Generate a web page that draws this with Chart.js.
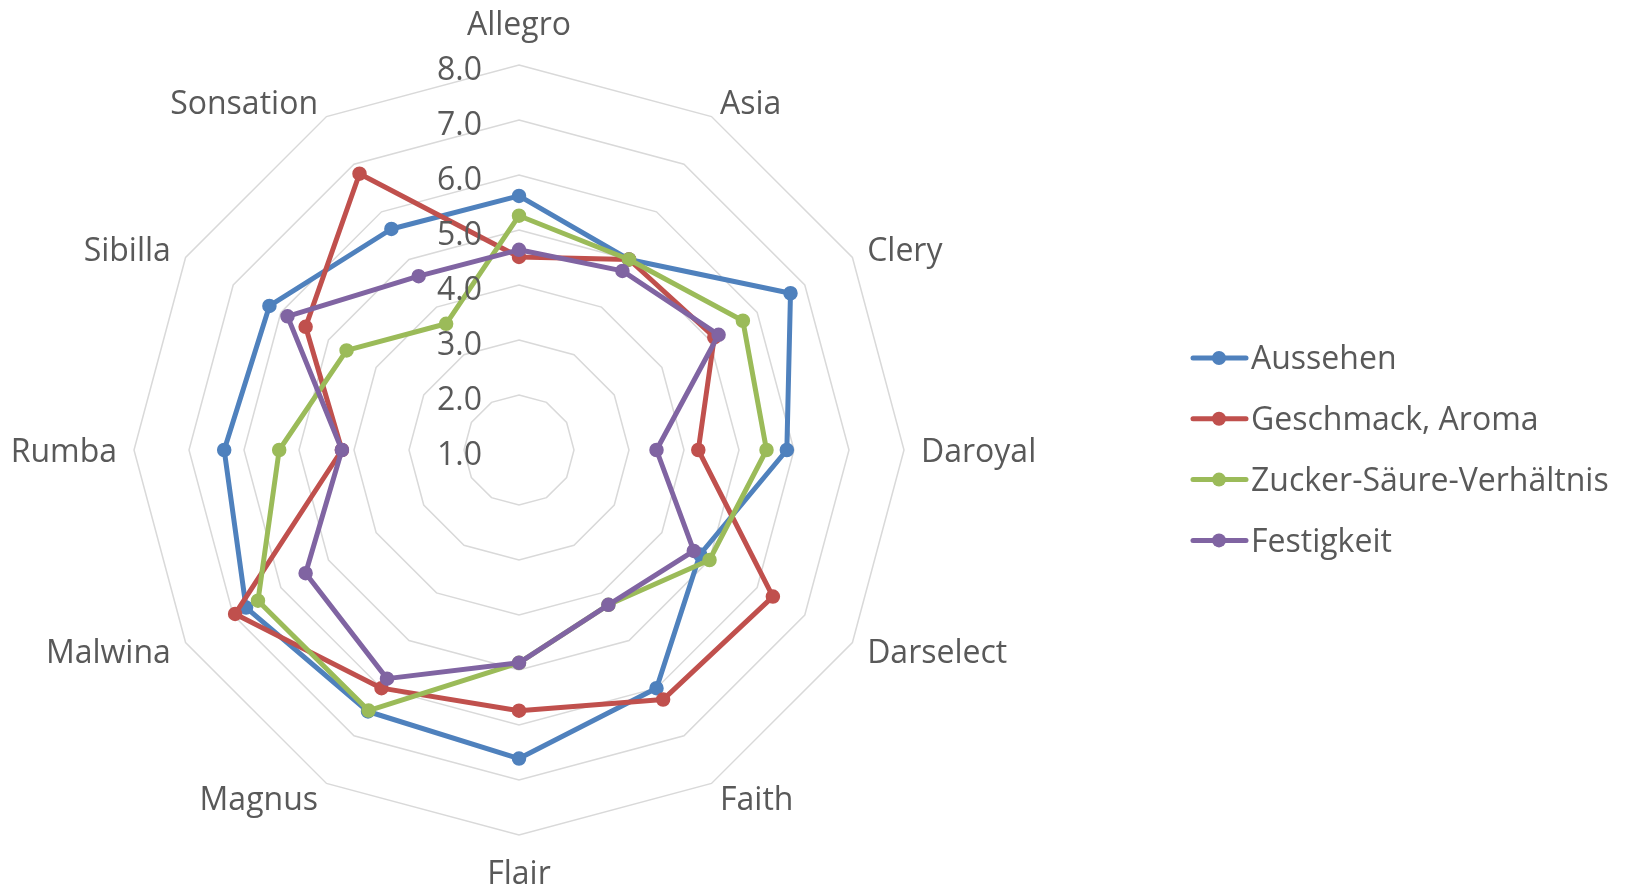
<!DOCTYPE html>
<html>
<head>
<meta charset="utf-8">
<script src="https://cdn.jsdelivr.net/npm/chart.js@4.4.1/dist/chart.umd.min.js"></script>
<style>
  html, body { margin: 0; padding: 0; background: #ffffff; }
  #wrap { width: 1635px; height: 890px; }
</style>
</head>
<body>
<div id="wrap"><canvas id="c" width="1635" height="890"></canvas></div>
<script>
// ---- data ----
const categories = ['Allegro', 'Asia', 'Clery', 'Daroyal', 'Darselect', 'Faith', 'Flair', 'Magnus', 'Malwina', 'Rumba', 'Sibilla', 'Sonsation'];
const seriesNames = ['Aussehen', 'Geschmack, Aroma', 'Zucker-Säure-Verhältnis', 'Festigkeit'];
const aussehen    = [5.62, 5.00, 6.70, 5.87, 4.80, 6.00, 6.61, 6.49, 6.73, 6.36, 6.24, 5.64];
const geschmack   = [4.51, 5.00, 5.10, 4.26, 6.33, 6.24, 5.74, 6.00, 6.96, 4.22, 5.48, 6.80];
const zucker      = [5.26, 5.00, 5.70, 5.50, 5.00, 4.25, 4.87, 6.47, 6.48, 5.36, 4.62, 3.65];
const festigkeit  = [4.64, 4.76, 5.19, 3.50, 4.67, 4.25, 4.87, 5.80, 5.48, 4.22, 5.86, 4.65];
const tickLabels  = ['1.0', '2.0', '3.0', '4.0', '5.0', '6.0', '7.0', '8.0'];
const seriesColors = ['#4F81BD', '#C0504D', '#9BBB59', '#8064A2'];

const seriesValues = [aussehen, geschmack, zucker, festigkeit];
const FONT = '32px "Open Sans"';
const TEXT_COLOR = '#595959';

const labelPlugin = {
  id: 'excelLabels',
  afterDatasetsDraw(chart) {
    const ctx = chart.ctx;
    const s = chart.scales.r;
    ctx.save();
    ctx.font = FONT;
    ctx.fillStyle = TEXT_COLOR;
    // tick labels (left of the vertical axis)
    ctx.textAlign = 'right';
    ctx.textBaseline = 'middle';
    tickLabels.forEach(t => {
      const d = s.getDistanceFromCenterForValue(parseFloat(t));
      ctx.fillText(t, s.xCenter - 37, s.yCenter - d + 6);
    });
    // category labels
    categories.forEach((c, i) => {
      const p = s.getPointPosition(i, s.drawingArea + 17);
      const dx = p.x - s.xCenter;
      let y = p.y + 3;
      if (Math.abs(dx) < 1) {
        ctx.textAlign = 'center';
        y += (p.y < s.yCenter) ? -25 : 20;
      } else {
        ctx.textAlign = dx > 0 ? 'left' : 'right';
      }
      ctx.fillText(c, p.x, y);
    });
    // legend
    const ly0 = 358, lstep = 60.8;
    chart.data.datasets.forEach((ds, i) => {
      const y = ly0 + i * lstep;
      ctx.strokeStyle = ds.borderColor;
      ctx.lineWidth = 5;
      ctx.lineCap = 'round';
      ctx.beginPath();
      ctx.moveTo(1193, y);
      ctx.lineTo(1246, y);
      ctx.stroke();
      ctx.fillStyle = ds.borderColor;
      ctx.beginPath();
      ctx.arc(1219, y, 7, 0, Math.PI * 2);
      ctx.fill();
      ctx.fillStyle = TEXT_COLOR;
      ctx.textAlign = 'left';
      ctx.textBaseline = 'middle';
      ctx.fillText(ds.label, 1251, y + 2);
    });
    ctx.restore();
  }
};

const datasets = seriesNames.map((name, i) => ({
  label: name,
  data: seriesValues[i],
  borderColor: seriesColors[i],
  backgroundColor: seriesColors[i],
  pointBackgroundColor: seriesColors[i],
  pointBorderColor: seriesColors[i],
  borderWidth: 5,
  pointRadius: 6.5,
  pointBorderWidth: 1.5,
  fill: false,
  tension: 0,
  borderJoinStyle: 'round',
  order: seriesNames.length - i
}));

new Chart(document.getElementById('c'), {
  type: 'radar',
  data: { labels: categories, datasets: datasets },
  options: {
    responsive: false,
    devicePixelRatio: 1,
    animation: false,
    layout: { padding: { left: 134, top: 65, right: 731, bottom: 55 } },
    plugins: {
      legend: { display: false },
      tooltip: { enabled: false }
    },
    scales: {
      r: {
        min: 1,
        max: 8,
        startAngle: 0,
        ticks: { display: false, stepSize: 1 },
        grid: { color: '#D9D9D9', lineWidth: 1.5 },
        angleLines: { display: false },
        pointLabels: { display: false }
      }
    }
  },
  plugins: [labelPlugin]
});
</script>
</body>
</html>
